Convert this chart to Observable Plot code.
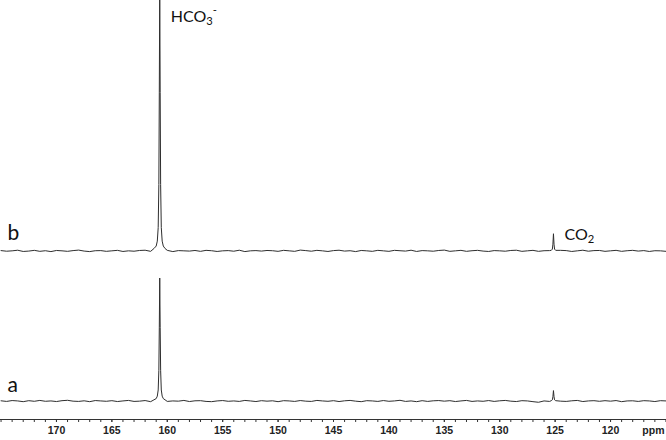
<!DOCTYPE html>
<html>
<head>
<meta charset="utf-8">
<script src="https://cdn.jsdelivr.net/npm/d3@7"></script>
<script src="https://cdn.jsdelivr.net/npm/@observablehq/plot@0.6"></script>
<style>
  html, body { margin: 0; padding: 0; background: #fff; }
</style>
</head>
<body>
<div id="chart"></div>
<script>
// ---- data ----
const basePpm = [
  175,174.5,174,173.5,173,172.5,172,171.5,171,170.5,
  170,169.5,169,168.5,168,167.5,167,166.5,166,165.5,
  165,164.5,164,163.5,163,162.5,162,161.5,161,160.5,
  160,159.5,159,158.5,158,157.5,157,156.5,156,155.5,
  155,154.5,154,153.5,153,152.5,152,151.5,151,150.5,
  150,149.5,149,148.5,148,147.5,147,146.5,146,145.5,
  145,144.5,144,143.5,143,142.5,142,141.5,141,140.5,
  140,139.5,139,138.5,138,137.5,137,136.5,136,135.5,
  135,134.5,134,133.5,133,132.5,132,131.5,131,130.5,
  130,129.5,129,128.5,128,127.5,127,126.5,126,125.5,
  125,124.5,124,123.5,123,122.5,122,121.5,121,120.5,
  120,119.5,119,118.5,118,117.5,117,116.5,116,115.5,
  115
];
const baselineA = [
  0.2,-0.3,0.4,0.1,-0.5,0.3,-0.2,0.5,-0.2,0.1,
  -0.4,0.3,0.6,-0.1,-0.3,0.2,-0.5,0.4,0.1,-0.2,
  0.3,-0.4,0.1,0.5,-0.3,-0.1,0.4,-0.5,0.2,0.3,
  -0.3,0.1,-0.1,0.5,-0.4,0.2,0.3,-0.3,-0.5,0.1,
  0.4,-0.2,0.1,-0.3,0.5,0.1,-0.4,0.3,-0.1,0.2,
  -0.5,0.3,0.1,-0.3,0.4,-0.1,-0.3,0.5,0.1,-0.2,
  0.3,-0.4,0.2,0.5,-0.1,-0.5,0.3,0.1,-0.3,0.4,
  -0.2,0.1,0.6,-0.3,0.1,-0.5,0.3,-0.3,0.2,0.4,
  -0.1,0.3,-0.4,0.1,0.5,-0.3,0.1,-0.2,0.4,-0.3,
  0.2,0.5,-0.1,-0.4,0.3,0.1,-0.5,-1.0,0.1,-0.3,
  0.4,-0.1,-0.3,0.2,0.5,-0.4,0.1,0.3,-0.2,0.3,
  -0.1,0.4,-0.5,0.1,0.2,-0.3,0.3,0.1,-0.4,0.3,
  0.1
];
const baselineB = [
  0.3,-0.2,0.1,0.6,-0.4,-0.1,0.5,-0.3,0.2,-0.5,
  0.4,0.1,-0.3,0.3,0.7,-0.1,-0.5,0.2,0.3,-0.3,
  0.1,0.5,-0.4,0.1,-0.2,0.4,0.6,-0.3,0.1,-0.1,
  0.5,-0.5,0.3,0.1,-0.1,0.4,-0.3,0.5,0.2,-0.4,
  0.1,0.3,-0.2,0.6,-0.5,0.1,0.3,-0.1,0.4,0.2,
  -0.3,0.5,0.1,-0.3,0.7,0.3,-0.2,0.5,0.1,-0.4,
  0.3,0.6,-0.1,0.2,-0.5,0.4,0.1,-0.3,0.5,0.1,
  -0.3,0.5,0.2,-0.1,0.6,-0.4,0.3,0.1,-0.2,0.4,
  0.7,-0.3,0.1,0.5,-0.3,0.2,0.5,-0.1,-0.4,0.3,
  0.1,-0.2,0.4,0.6,-0.3,0.1,0.5,-0.3,0.2,0.3,
  -0.1,0.5,0.3,-0.4,0.1,0.6,-0.2,0.3,0.4,-0.3,
  0.1,0.5,-0.3,0.2,0.5,-0.1,0.3,-0.4,0.2,0.1,
  -0.3
];
// HCO3- peak (~160.7 ppm)
const hcoPpm = [161.2,161.0,160.9,160.82,160.76,160.72,160.68,160.64,160.6,160.54,160.46,160.36,160.2];
const hcoA   = [1,2,4,9,25,60,100,60,25,9,4,2,1];
const hcoB   = [2,4,8,19,54,129,215,129,54,19,8,4,2];
// CO2 peak (~125.15 ppm)
const co2Ppm = [125.35,125.25,125.2,125.15,125.1,125.05,124.95];
const co2A   = [0.3,1,3.5,8.5,3.5,1,0.3];
const co2B   = [0.5,1.5,5.5,14,5.5,1.5,0.5];

const spectrumNames = ["a", "b"];
const peakLabels = ["HCO3-", "CO2"];
const peakLabelPpm = [160.68, 125.15];
const peakLabelY = [312.6, 135.4];
const spectrumLabelY = [13.2, 136];

const majorTicks = [170,165,160,155,150,145,140,135,130,125,120];
const minorTicks = d3.range(175, 114, -1);

// ---- build ----
const xDomain = [175.05, 114.95];
const yDomain = [-15, 325.6];
const offsetB = 122;

function buildSpectrum(base, peaks, offset) {
  const pts = [];
  basePpm.forEach((p, i) => {
    const inPeak = peaks.some(pk => p <= d3.max(pk.ppm) && p >= d3.min(pk.ppm));
    if (!inPeak) pts.push({ppm: p, v: base[i] + offset});
  });
  peaks.forEach(pk => pk.ppm.forEach((p, i) => pts.push({ppm: p, v: pk.val[i] + offset})));
  pts.sort((a, b) => b.ppm - a.ppm);
  return pts;
}
const specA = buildSpectrum(baselineA, [{ppm: hcoPpm, val: hcoA}, {ppm: co2Ppm, val: co2A}], 0);
const specB = buildSpectrum(baselineB, [{ppm: hcoPpm, val: hcoB}, {ppm: co2Ppm, val: co2B}], offsetB);

const annots = peakLabels.map((t, i) => ({text: t, ppm: peakLabelPpm[i], y: peakLabelY[i]}));
const specLabels = spectrumNames.map((t, i) => ({text: t, y: spectrumLabelY[i]}));

const lineColor = "#2e2e2e";

const chart = Plot.plot({
  width: 666,
  height: 440,
  marginLeft: 0,
  marginRight: 0,
  marginTop: 0,
  marginBottom: 21,
  style: {fontFamily: "'Liberation Sans', Arial, sans-serif", fontSize: "10.5px", background: "#fff"},
  x: {domain: xDomain, axis: null, label: null},
  y: {domain: yDomain, axis: null, label: null},
  marks: [
    Plot.line(specA, {x: "ppm", y: "v", stroke: lineColor, strokeWidth: 1, clip: true}),
    Plot.line(specB, {x: "ppm", y: "v", stroke: lineColor, strokeWidth: 1, clip: true}),
    Plot.ruleY([yDomain[0]], {stroke: "#333", strokeWidth: 1}),
    Plot.axisX({ticks: minorTicks, tickSize: 3, tickFormat: () => "", label: null, stroke: "#333"}),
    Plot.axisX({ticks: majorTicks, tickSize: 3, tickPadding: 4, tickFormat: d => String(d), label: null, stroke: "#333", fill: "#222", fontWeight: "bold", fontSize: 10.5}),
    Plot.text(["ppm"], {frameAnchor: "bottom-right", dx: -2, dy: 14, textAnchor: "end", fill: "#222", fontWeight: "bold", fontSize: 10.5}),
    Plot.text(specLabels, {frameAnchor: "left", y: "y", text: "text", dx: 7, textAnchor: "start", fontFamily: "Lato", fontSize: 21, fill: "#111"}),
    Plot.text(annots, {x: "ppm", y: "y", text: "text", dx: 11, textAnchor: "start", fontFamily: "Lato", fontSize: 16, fill: "#111"})
  ]
});

// subscripts / superscripts
chart.querySelectorAll("text").forEach(t => {
  const s = t.textContent;
  if (s === "HCO3-" || s === "CO2") {
    const NS = "http://www.w3.org/2000/svg";
    while (t.firstChild) t.removeChild(t.firstChild);
    const mk = (txt, attrs) => {
      const ts = document.createElementNS(NS, "tspan");
      ts.textContent = txt;
      for (const k in attrs) ts.setAttribute(k, attrs[k]);
      t.appendChild(ts);
    };
    if (s === "HCO3-") {
      mk("HCO", {});
      mk("3", {dy: "0.3em", "font-size": "0.7em"});
      mk("-", {dy: "-0.95em", "font-size": "0.7em"});
    } else {
      mk("CO", {});
      mk("2", {dy: "0.3em", "font-size": "0.7em"});
    }
  }
});

document.getElementById("chart").appendChild(chart);
</script>
</body>
</html>
